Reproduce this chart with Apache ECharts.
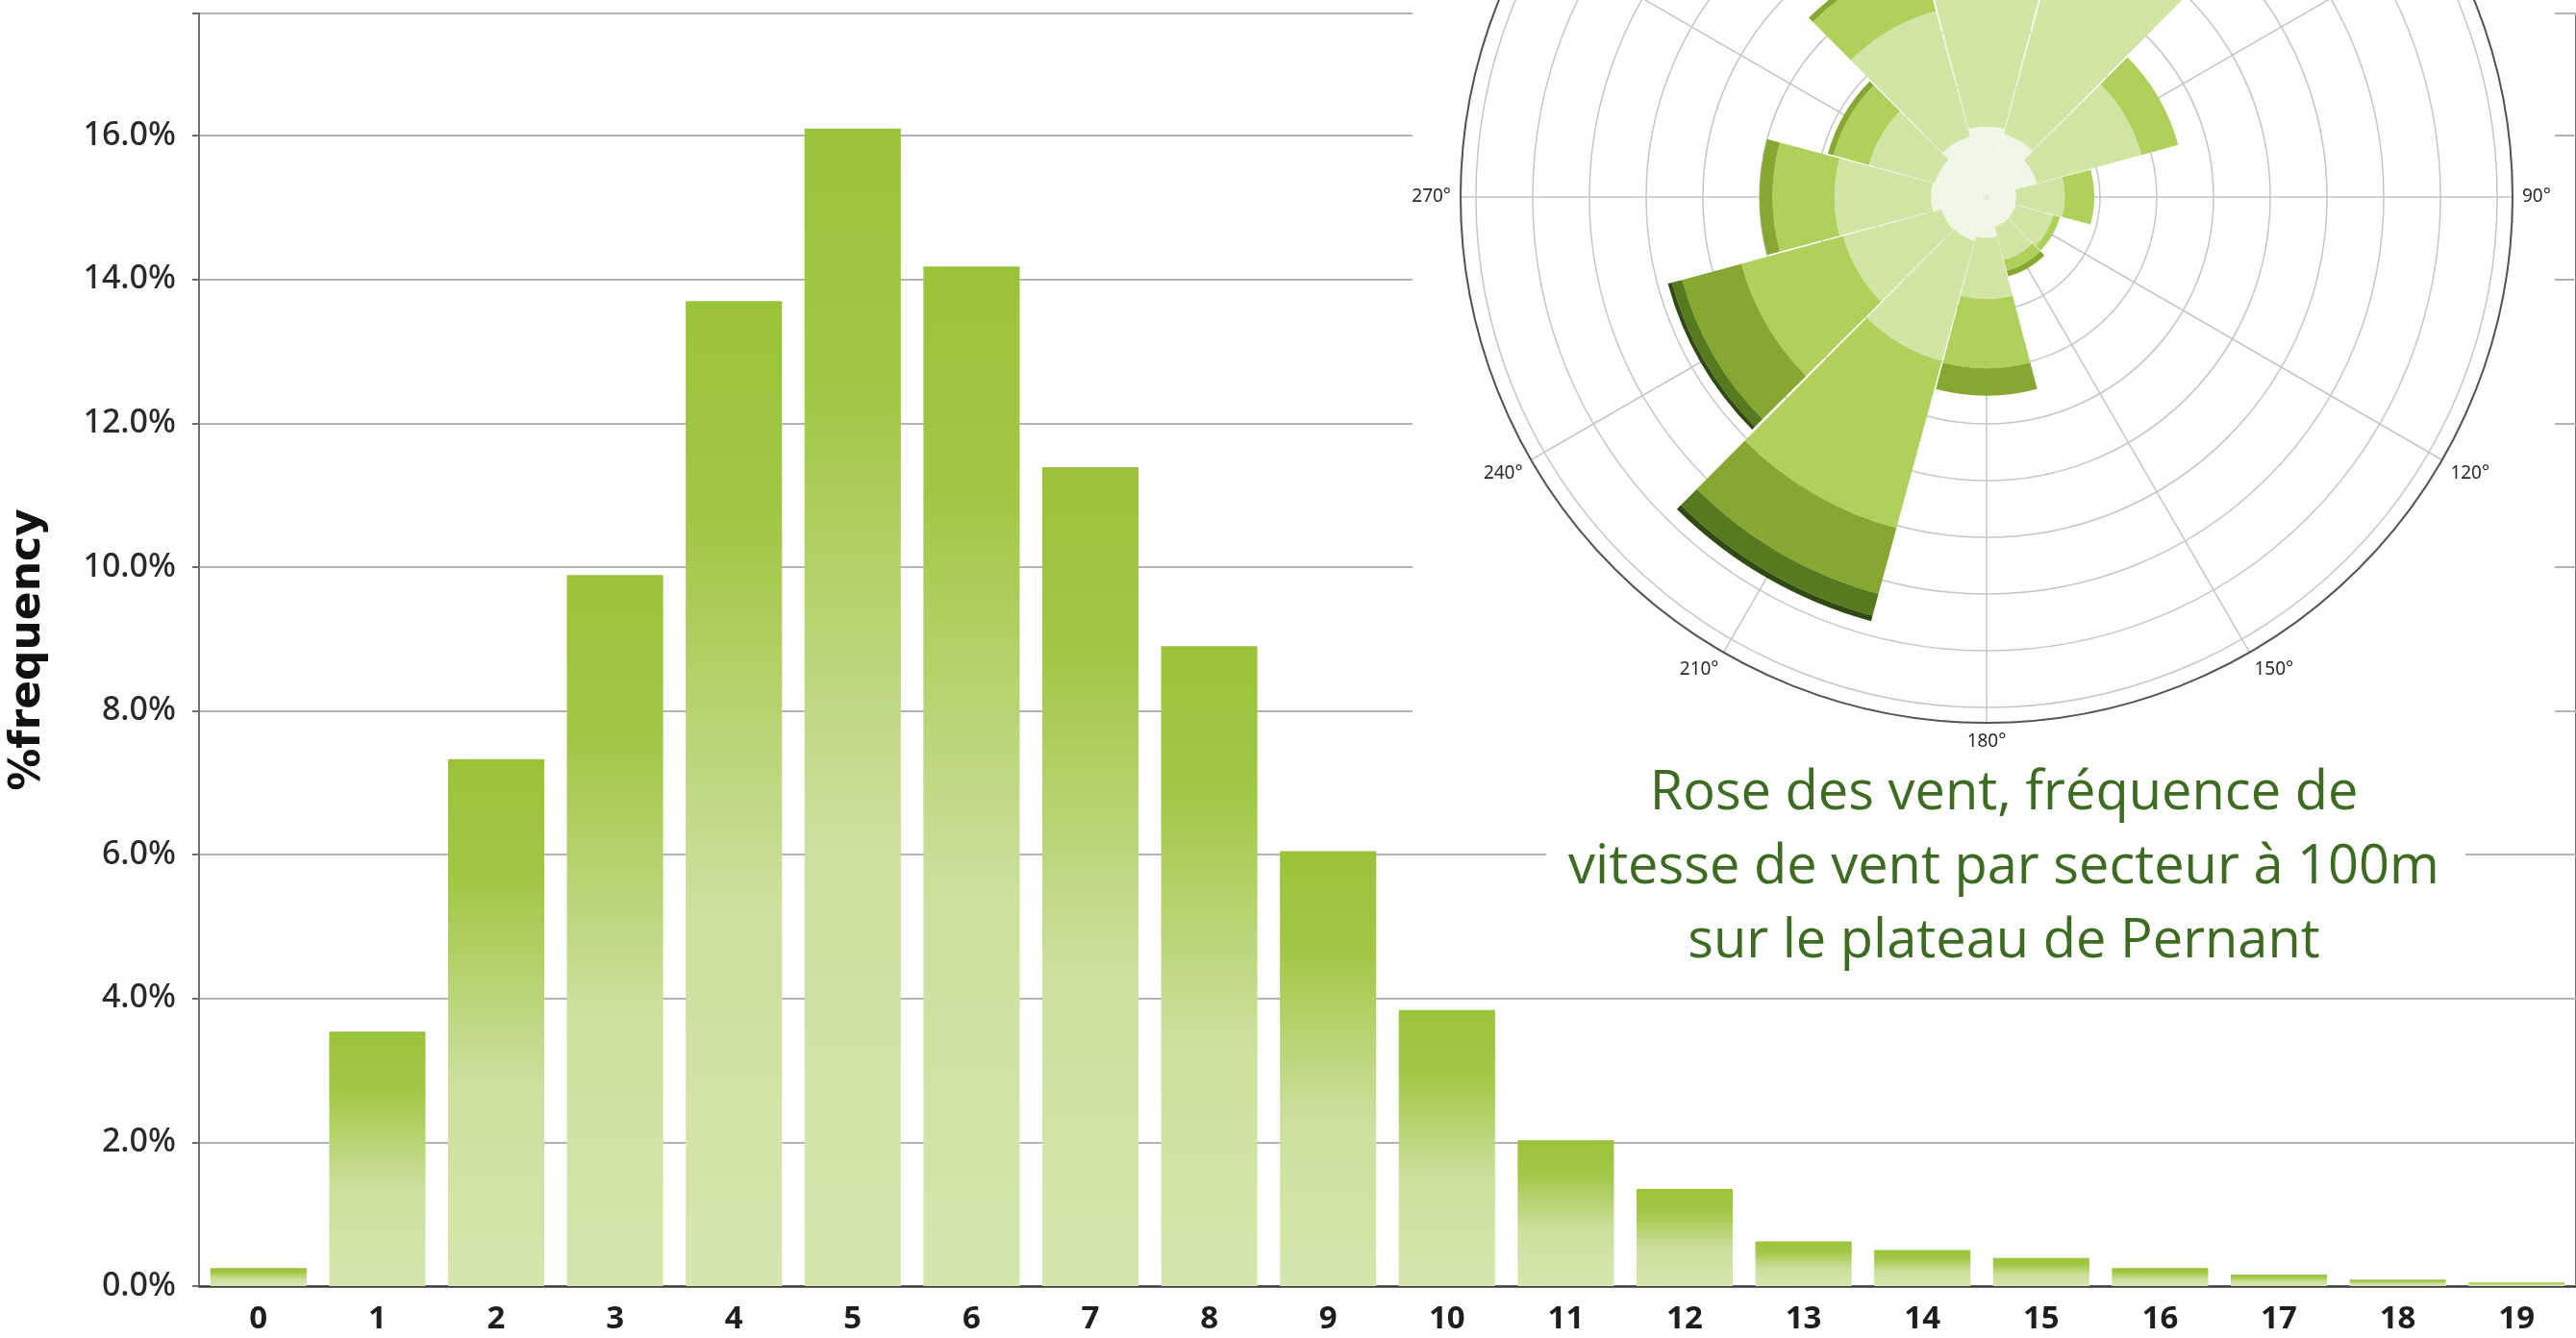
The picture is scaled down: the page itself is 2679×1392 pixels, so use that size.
<!DOCTYPE html>
<html>
<head>
<meta charset="utf-8">
<script src="https://cdn.jsdelivr.net/npm/echarts@6/dist/echarts.min.js"></script>
<style>
  html, body { margin: 0; padding: 0; background: #fff; }
  #main { width: 2679px; height: 1392px; }
</style>
</head>
<body>
<div id="main"></div>
<script>
// histogramme des vitesses (m/s) -> % de frequence
var speedCats = ['0', '1', '2', '3', '4', '5', '6', '7', '8', '9',
                 '10', '11', '12', '13', '14', '15', '16', '17', '18', '19'];
var freqPct = [0.25, 3.54, 7.33, 9.89, 13.70, 16.10, 14.18, 11.39, 8.90, 6.05,
               3.84, 2.03, 1.35, 0.62, 0.50, 0.39, 0.25, 0.16, 0.09, 0.05];

// rose des vents : 12 secteurs, 6 classes de vitesse (epaisseur de chaque classe, en anneaux)
var roseSectors = ['0', '30', '60', '90', '120', '150', '180', '210', '240', '270', '300', '330'];
var roseBin1 = [1.24, 1.15, 0.92, 0.52, 0.53, 0.54, 0.72, 0.80, 0.82, 0.98, 0.94, 1.10];
var roseBin2 = [3.36, 4.45, 1.91, 0.86, 0.69, 0.61, 1.08, 2.20, 1.80, 1.70, 1.21, 2.30];
var roseBin3 = [0.60, 0.60, 0.67, 0.52, 0.12, 0.20, 1.22, 3.05, 1.86, 1.09, 0.65, 0.95];
var roseBin4 = [0, 0, 0, 0, 0, 0.10, 0.48, 1.20, 1.08, 0.23, 0.10, 0.10];
var roseBin5 = [0, 0, 0, 0, 0, 0, 0, 0.40, 0.19, 0, 0, 0];
var roseBin6 = [0, 0, 0, 0, 0, 0, 0, 0.10, 0.07, 0, 0, 0];
var roseColors = ['#f1f7e6', '#d1e5a5', '#afd05a', '#87a830', '#587a1f', '#2f4a12'];

var captionLines = ['Rose des vent, fréquence de',
                    'vitesse de vent par secteur à 100m',
                    'sur le plateau de Pernant'];

var myChart = echarts.init(document.getElementById('main'));

var barGradient = new echarts.graphic.LinearGradient(0, 0, 0, 1, [
	{offset: 0, color: '#9bc33a'},
	{offset: 0.22, color: '#a1c744'},
	{offset: 0.62, color: '#cde09e'},
	{offset: 1, color: '#d6e7ae'}
]);

var roseBins = [roseBin1, roseBin2, roseBin3, roseBin4, roseBin5, roseBin6];
var roseSeries = [];
for (var i = 0; i < roseBins.length; i++) {
	roseSeries.push({
		type: 'bar',
		coordinateSystem: 'polar',
		polarIndex: 1,
		stack: 'rose',
		z: 8,
		barCategoryGap: '1.5%',
		itemStyle: { color: roseColors[i] },
		data: roseBins[i],
		silent: true
	});
}

// fond blanc de l'encart rose + legende
var captionEls = [{
	type: 'rect',
	z: 5,
	shape: { x: 1469, y: 0, width: 1188, height: 795 },
	style: { fill: '#ffffff' }
}, {
	type: 'rect',
	z: 5,
	shape: { x: 1608, y: 780, width: 956, height: 232 },
	style: { fill: '#ffffff' }
}];
for (var k = 0; k < captionLines.length; k++) {
	captionEls.push({
		type: 'text',
		z: 9,
		x: 2084,
		y: 826 + k * 77,
		style: {
			text: captionLines[k],
			fill: '#3d6b22',
			font: '56px "Open Sans", sans-serif',
			textAlign: 'center',
			textVerticalAlign: 'middle'
		}
	});
}

var option = {
	backgroundColor: '#ffffff',
	animation: false,
	grid: {
		left: 199,
		right: 0,
		top: 14,
		bottom: 54,
		show: true,
		borderColor: '#6b6f78',
		borderWidth: 2
	},
	xAxis: {
		type: 'category',
		data: speedCats,
		axisLine: { lineStyle: { color: '#3d3d3d', width: 2.5 } },
		axisTick: { alignWithLabel: true, length: 13, lineStyle: { color: '#3d3d3d', width: 2 } },
		axisLabel: { color: '#1e1e1e', fontSize: 33, fontWeight: 'bold', fontFamily: 'Noto Sans', margin: 18 }
	},
	yAxis: {
		type: 'value',
		min: 0,
		max: 17.7,
		interval: 2,
		name: '%frequency',
		nameLocation: 'middle',
		nameRotate: 90,
		nameGap: 155,
		nameTextStyle: { color: '#111', fontSize: 44, fontWeight: 'bold', fontFamily: 'DejaVu Sans' },
		axisLine: { show: true, lineStyle: { color: '#6b6f78', width: 2 } },
		axisTick: { show: true, length: 7, lineStyle: { color: '#6b6f78', width: 2 } },
		axisLabel: {
			color: '#2a2a2a', fontSize: 34, fontWeight: 500, fontFamily: 'Noto Sans', margin: 24,
			formatter: function (v) { return v % 2 === 0 ? v.toFixed(1) + '%' : ''; }
		},
		splitLine: { lineStyle: { color: '#b4b4b4', width: 2 } }
	},
	polar: [
		{ center: [2066, 205], radius: 547 },
		{ center: [2066, 205], radius: 547 }
	],
	angleAxis: [{
		polarIndex: 0,
		type: 'value',
		min: 0,
		max: 360,
		interval: 30,
		startAngle: 90,
		clockwise: true,
		z: 6,
		axisLine: { show: true, lineStyle: { color: '#555', width: 2 } },
		axisTick: { show: false },
		axisLabel: {
			color: '#2a2a2a', fontSize: 19, fontFamily: 'Noto Sans', margin: 10,
			formatter: function (v) { return v + '°'; }
		},
		splitLine: { show: true, lineStyle: { color: '#c6c6c6', width: 1.5 } }
	}, {
		polarIndex: 1,
		type: 'category',
		data: roseSectors,
		startAngle: 105,
		clockwise: true,
		axisLine: { show: false },
		axisTick: { show: false },
		axisLabel: { show: false },
		splitLine: { show: false }
	}],
	radiusAxis: [{
		polarIndex: 0,
		type: 'value',
		min: 0,
		max: 9.27,
		interval: 1,
		z: 6,
		axisLine: { show: false },
		axisTick: { show: false },
		axisLabel: { show: false },
		splitLine: { show: true, lineStyle: { color: '#c6c6c6', width: 1.5 } }
	}, {
		polarIndex: 1,
		type: 'value',
		min: 0,
		max: 9.27,
		axisLine: { show: false },
		axisTick: { show: false },
		axisLabel: { show: false },
		splitLine: { show: false }
	}],
	graphic: { elements: captionEls },
	series: [{
		type: 'bar',
		data: freqPct,
		barWidth: '81%',
		itemStyle: { color: barGradient },
		silent: true
	}].concat(roseSeries)
};

myChart.setOption(option);
</script>
</body>
</html>
